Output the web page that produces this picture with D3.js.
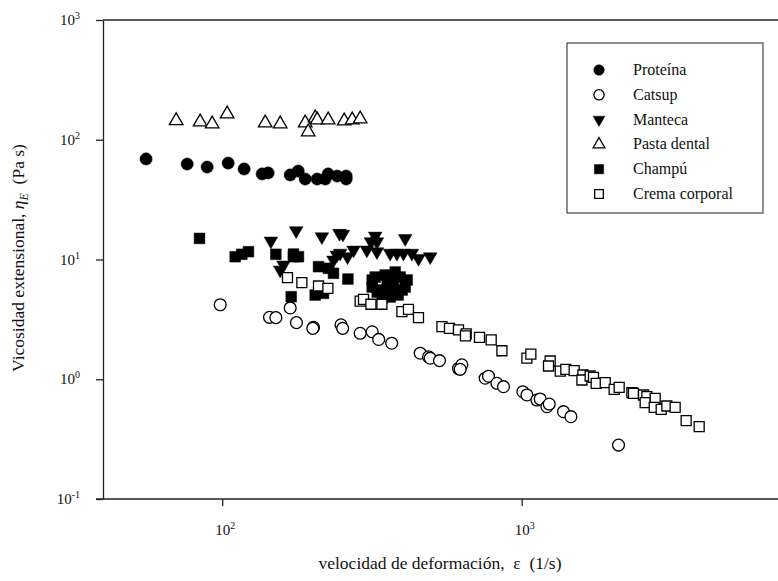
<!DOCTYPE html>
<html><head><meta charset="utf-8">
<script src="https://cdn.jsdelivr.net/npm/d3@7"></script>
<style>
body{margin:0;background:#fff}
svg{display:block}
text{font-family:"Liberation Serif","Times New Roman",serif;fill:#111;white-space:pre}
</style>
</head><body>
<svg id="c" width="778" height="581" font-family="Liberation Serif, Times New Roman, serif"></svg>
<script>
// ---- data: [strain rate (1/s), extensional viscosity (Pa s)] ----
const proteina = [[55.7,69.1],[76.4,62.7],[89.1,59.2],[104.7,63.9],[118.4,57.0],[136.0,51.8],[142.4,52.8],
  [168.7,50.8],[179.4,54.8],[189.3,47.0],[207.6,47.0],[220.8,47.0],[225.9,51.8],[242.1,49.8],[259.4,49.8],[259.4,47.0]];
const pastaDental = [[70.2,144.2],[84.4,140.7],[92.6,135.4],[103.9,164.1],[139.2,138.0],[156.2,135.4],[189.3,138.0],
  [193.7,116.1],[204.4,151.9],[207.6,146.2],[225.9,146.2],[255.5,143.4],[271.8,146.2],[288.9,149.1]];
const manteca = [[145.4,14.27],[176.6,17.4],[215.2,15.5],[246.4,16.55],[252.9,16.3],[324.3,15.7],[328.6,14.08],[313.8,14.08],
  [408.3,15.0],[160.2,9.0],[156.2,8.17],[241.5,10.9],[247.7,11.3],[262.1,10.55],[274.5,12.0],[304.2,12.0],[328.6,11.62],
  [363.9,11.3],[383.1,11.3],[403.0,11.3],[429.9,11.3],[452.3,10.23],[495.0,10.55],[235.3,9.9]];
const champu = [[84.0,15.0],[110.5,10.55],[116.3,11.05],[122.4,11.62],[151.1,11.05],[173.0,10.55],[179.8,10.55],[173.0,11.1],
  [209.7,8.71],[226.4,8.44],[235.3,7.67],[262.9,6.87],[170.0,4.89],[204.4,5.05],[217.9,5.22],
  [324.3,7.14],[316.8,5.89],[329.3,5.35],[344.8,5.56],[363.9,4.86],[378.2,7.86],[392.9,7.14],[414.6,6.74],[399.0,5.56],
  [372.4,5.89],[355.6,6.37],[316.8,6.74],[386.9,5.05],[342.1,4.77],[350.1,7.42],[408.3,5.89],[363.9,6.5]];
const catsup = [[98.5,4.19],[143.9,3.29],[151.1,3.27],[168.7,3.94],[177.0,2.97],[201.8,2.71],[200.7,2.66],[249.3,2.85],
  [252.5,2.66],[288.9,2.42],[316.8,2.49],[333.1,2.15],[368.1,2.00],[458.3,1.65],[488.6,1.54],[495.0,1.50],[531.6,1.43],
  [615.2,1.23],[631.4,1.32],[623.2,1.21],[755.3,1.02],[774.7,1.06],[826.4,0.925],[869.5,0.867],[1009,0.787],[1041,0.739],
  [1124,0.671],[1153,0.684],[1214,0.590],[1236,0.621],[1379,0.536],[1460,0.487],[2105,0.282]];
const cremaCorporal = [[165.2,7.05],[184.5,6.40],[209.7,6.01],[225.4,5.75],[288.9,4.50],[296.4,4.65],[313.8,4.23],[341.4,4.23],
  [398.1,3.67],[418.8,3.84],[452.3,3.27],[541.6,2.75],[574.1,2.66],[615.2,2.58],[652.7,2.39],[649.0,2.30],[723.1,2.24],
  [791.0,2.13],[858.9,1.73],[1041,1.50],[1073,1.62],[1245,1.42],[1229,1.29],[1345,1.17],[1404,1.21],[1497,1.18],
  [1601,1.085],[1589,0.986],[1693,1.064],[1737,1.038],[1773,0.925],[1901,0.936],[2036,0.824],[2116,0.857],[2333,0.772],
  [2362,0.762],[2551,0.739],[2618,0.715],[2584,0.637],[2791,0.693],[2770,0.583],[2923,0.561],[3053,0.598],[3254,0.583],
  [3541,0.451],[3914,0.402]];

const legendNames = ["Proteína","Catsup","Manteca","Pasta dental","Champú","Crema corporal"];
const yTicks = [0.1, 1, 10, 100, 1000];
const yTickExp = ["-1","0","1","2","3"];
const xTicks = [100, 1000];
const xTickExp = ["2","3"];

(function draw() {
  const svg = d3.select("#c");
  const W = 778;
  const mLeft = 103, mTop = 20, mBottom = 499, decade = 299.5;
  const x = d3.scaleLog().domain([40, 10000]).range([mLeft, mLeft + decade * Math.log10(10000 / 40)]);
  const y = d3.scaleLog().domain([0.1, 1000]).range([mBottom, mTop]);
  const axisColor = "#222";

  const styles = {
    "Proteína":      {type: d3.symbolCircle,   size: 118, fill: "#000", rot: 0},
    "Catsup":        {type: d3.symbolCircle,   size: 110, fill: "#fff", rot: 0},
    "Manteca":       {type: d3.symbolTriangle, size: 80,  fill: "#000", rot: 180},
    "Pasta dental":  {type: d3.symbolTriangle, size: 80,  fill: "#fff", rot: 0},
    "Champú":        {type: d3.symbolSquare,   size: 115, fill: "#000", rot: 0},
    "Crema corporal":{type: d3.symbolSquare,   size: 100, fill: "#fff", rot: 0}
  };
  const seriesData = {
    "Proteína": proteina, "Catsup": catsup, "Manteca": manteca,
    "Pasta dental": pastaDental, "Champú": champu, "Crema corporal": cremaCorporal
  };
  const drawOrder = ["Proteína","Pasta dental","Manteca","Champú","Catsup","Crema corporal"];

  // top border
  svg.append("line").attr("x1", mLeft).attr("x2", W).attr("y1", mTop).attr("y2", mTop)
    .attr("stroke", axisColor).attr("stroke-width", 1.3);

  // y axis
  const yAxis = d3.axisLeft(y).tickValues(yTicks).tickSize(7).tickSizeOuter(0).tickFormat("");
  const gy = svg.append("g").attr("transform", `translate(${mLeft},0)`).call(yAxis);
  gy.selectAll("path,line").attr("stroke", axisColor).attr("stroke-width", 1.3);
  yTicks.forEach((t, i) => {
    const tx = svg.append("text").attr("x", 80).attr("y", y(t) + 5).attr("text-anchor", "end")
      .attr("font-size", 15);
    tx.append("tspan").text("10");
    tx.append("tspan").attr("font-size", 10).attr("dy", -6).text(yTickExp[i]);
  });

  // x axis
  const xAxis = d3.axisBottom(x).tickValues(xTicks).tickSize(7).tickSizeOuter(0).tickFormat("");
  const gx = svg.append("g").attr("transform", `translate(0,${mBottom})`).call(xAxis);
  gx.select("path.domain").remove();
  gx.selectAll("line").attr("stroke", axisColor).attr("stroke-width", 1.3);
  svg.append("line").attr("x1", mLeft - 7).attr("x2", W).attr("y1", mBottom).attr("y2", mBottom)
    .attr("stroke", axisColor).attr("stroke-width", 1.3);
  xTicks.forEach((t, i) => {
    const tx = svg.append("text").attr("x", x(t) + 3).attr("y", 535).attr("text-anchor", "middle")
      .attr("font-size", 15);
    tx.append("tspan").text("10");
    tx.append("tspan").attr("font-size", 10).attr("dy", -6).text(xTickExp[i]);
  });

  // axis titles
  svg.append("text").attr("x", 440).attr("y", 569).attr("text-anchor", "middle").attr("font-size", 17.5)
    .text("velocidad de deformación,  ε  (1/s)");

  const yt = svg.append("text").attr("transform", "translate(24,258) rotate(-90)")
    .attr("text-anchor", "middle").attr("font-size", 17.5);
  yt.append("tspan").text("Vicosidad extensional, ");
  yt.append("tspan").attr("font-style", "italic").text("η");
  yt.append("tspan").attr("font-style", "italic").attr("font-size", 12).attr("dy", 4).text("E");
  yt.append("tspan").attr("dy", -4).text("  (Pa s)");

  // points
  const plot = svg.append("g");
  drawOrder.forEach(name => {
    const st = styles[name];
    const sym = d3.symbol().type(st.type).size(st.size);
    plot.append("g").selectAll("path").data(seriesData[name]).join("path")
      .attr("d", sym)
      .attr("transform", d => `translate(${x(d[0])},${y(d[1])}) rotate(${st.rot})`)
      .attr("fill", st.fill)
      .attr("stroke", "#000")
      .attr("stroke-width", st.fill === "#fff" ? 1.3 : 0.5);
  });

  // legend
  const lg = svg.append("g");
  lg.append("rect").attr("x", 567).attr("y", 43).attr("width", 196).attr("height", 170)
    .attr("fill", "#fff").attr("stroke", "#444").attr("stroke-width", 1.2);
  legendNames.forEach((name, i) => {
    const st = styles[name];
    const cy = 70 + i * 24.8;
    const sym = d3.symbol().type(st.type).size(st.size * 0.75);
    lg.append("path").attr("d", sym)
      .attr("transform", `translate(599,${cy}) rotate(${st.rot})`)
      .attr("fill", st.fill).attr("stroke", "#000")
      .attr("stroke-width", st.fill === "#fff" ? 1.3 : 0.5);
    lg.append("text").attr("x", 633).attr("y", cy + 5).attr("font-size", 16).text(name);
  });
})();
</script>
</body></html>
